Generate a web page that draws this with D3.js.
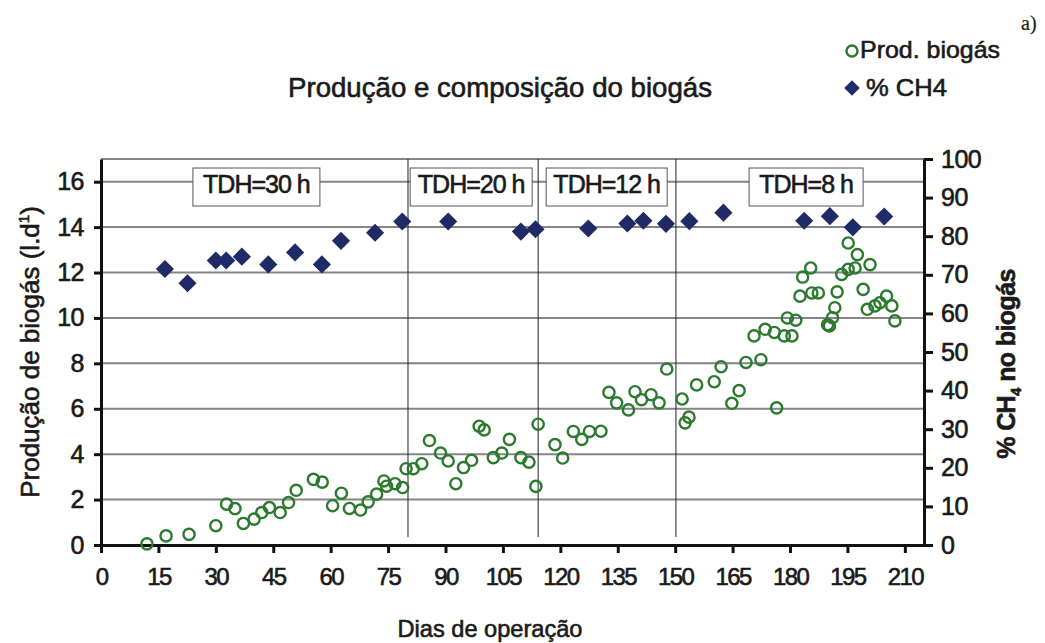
<!DOCTYPE html>
<html>
<head>
<meta charset="utf-8">
<script src="https://cdn.jsdelivr.net/npm/d3@7"></script>
<style>
  html, body { margin: 0; padding: 0; background: #fff; }
  svg text { font-family: "Liberation Sans", Arial, sans-serif; fill: #1a1a1a; stroke: #1a1a1a; stroke-width: 0.6px; }
</style>
</head>
<body>
<svg id="chart" width="1045" height="643"></svg>
<script>
// Biogas production (l/d) by day of operation
const prodDays = [12, 17, 23, 30, 32.8, 35, 37.2, 40, 42, 44, 46.8, 49, 51, 55.5, 57.8, 60.5, 62.8, 64.9, 67.8, 69.8,
  72, 73.9, 74.6, 76.8, 78.8, 79.7, 81.6, 83.8, 85.8, 88.7, 90.7, 92.7, 94.7, 96.8, 98.8, 100.1, 102.5, 104.7, 106.7, 109.7,
  111.8, 113.6, 114.2, 118.6, 120.6, 123.4, 125.6, 127.6, 130.6, 132.7, 134.7, 137.8, 139.5, 141.2, 143.7, 145.8, 147.8, 151.8, 152.6, 153.6,
  155.6, 160.2, 162, 164.8, 166.7, 168.5, 170.6, 172.4, 173.5, 175.9, 176.5, 178.5, 179.3, 180.5, 181.5, 182.6, 183.3, 185.4, 185.7, 187.4,
  189.8, 190.3, 191.1, 191.7, 192.3, 193.5, 195.2, 195.2, 197.0, 197.6, 199.1, 200.2, 200.9, 202.2, 203.5, 205.2, 206.6, 207.4];
const prodValues = [0.05, 0.40, 0.47, 0.85, 1.80, 1.60, 0.95, 1.14, 1.43, 1.65, 1.43, 1.87, 2.41, 2.89, 2.77, 1.73, 2.28, 1.61, 1.54, 1.90,
  2.24, 2.82, 2.59, 2.70, 2.53, 3.36, 3.36, 3.58, 4.60, 4.05, 3.70, 2.70, 3.41, 3.73, 5.23, 5.07, 3.85, 4.05, 4.65, 3.85,
  3.65, 2.58, 5.32, 4.42, 3.83, 5.00, 4.65, 5.00, 5.01, 6.72, 6.26, 5.95, 6.75, 6.40, 6.62, 6.26, 7.75, 6.43, 5.38, 5.63,
  7.05, 7.19, 7.85, 6.24, 6.80, 8.04, 9.21, 8.16, 9.50, 9.36, 6.04, 9.21, 10.00, 9.21, 9.90, 10.96, 11.80, 12.20, 11.10, 11.10,
  9.70, 9.65, 10.01, 10.45, 11.15, 11.92, 12.14, 13.30, 12.20, 12.79, 11.26, 10.38, 12.35, 10.53, 10.67, 10.96, 10.53, 9.87];

// Methane content of the biogas (%)
const ch4Days = [16.7, 22.6, 30.0, 32.7, 36.8, 43.7, 50.7, 57.7, 62.7, 71.6, 78.7, 90.7, 109.7, 113.5, 127.3, 137.5, 141.7, 147.6,
  153.7, 162.6, 183.7, 190.4, 196.4, 204.6];
const ch4Values = [71.5, 67.8, 73.7, 73.7, 74.7, 72.7, 75.8, 72.7, 78.8, 80.9, 83.8, 83.8, 81.2, 81.8, 82.0, 83.3, 84.0, 83.2,
  83.9, 86.1, 84.0, 85.2, 82.3, 85.1];

// Hydraulic retention time phases
const phaseBoundaries = [80.2, 114.2, 150.2];
const phaseLabels = ["TDH=30 h", "TDH=20 h", "TDH=12 h", "TDH=8 h"];
const phaseLabelCenters = [40.6, 96.7, 132.1, 184.2];

const xTicks = d3.range(0, 211, 15);
const yLeftTicks = d3.range(0, 17, 2);
const yRightTicks = d3.range(0, 101, 10);

const svg = d3.select("#chart");
const plotLeft = 101, plotRight = 924, plotTop = 159, plotBottom = 545;

const x = d3.scaleLinear().domain([0, 215]).range([plotLeft, plotRight]);
const yL = d3.scaleLinear().domain([0, 17]).range([plotBottom, plotTop]);
const yR = d3.scaleLinear().domain([0, 100]).range([plotBottom, plotTop]);

// Horizontal gridlines (plus top border)
svg.append("g").selectAll("line")
  .data(yLeftTicks.filter(d => d > 0).concat([17]))
  .join("line")
  .attr("x1", plotLeft).attr("x2", plotRight)
  .attr("y1", d => yL(d)).attr("y2", d => yL(d))
  .attr("stroke", "#858585").attr("stroke-width", 2);

// Phase separators
svg.append("g").selectAll("line")
  .data(phaseBoundaries)
  .join("line")
  .attr("x1", d => x(d)).attr("x2", d => x(d))
  .attr("y1", plotTop).attr("y2", yL(0.35))
  .attr("stroke", "#222").attr("stroke-width", 1);

// Phase label boxes
const boxW = [127, 122, 121, 114];
const phaseG = svg.append("g").selectAll("g")
  .data(phaseLabels)
  .join("g")
  .attr("transform", (d, i) => `translate(${x(phaseLabelCenters[i])},0)`);
phaseG.append("rect")
  .attr("x", (d, i) => -boxW[i] / 2).attr("y", 168)
  .attr("width", (d, i) => boxW[i]).attr("height", 38)
  .attr("fill", "#fff").attr("stroke", "#555").attr("stroke-width", 1);
phaseG.append("text")
  .attr("text-anchor", "middle").attr("y", 193)
  .attr("font-size", 25).attr("letter-spacing", -1)
  .text(d => d);

// Axes
const axisStyle = (size, spacing) => g => {
  g.select(".domain").attr("stroke", "#111").attr("stroke-width", 3);
  g.selectAll(".tick line").attr("stroke", "#111").attr("stroke-width", 3);
  g.selectAll(".tick text").attr("font-size", size).attr("letter-spacing", spacing)
    .attr("fill", "#1a1a1a")
    .attr("font-family", "'Liberation Sans', Arial, sans-serif");
};

svg.append("g")
  .attr("transform", `translate(0,${plotBottom})`)
  .call(d3.axisBottom(x).tickValues(xTicks).tickSize(8).tickPadding(15).tickSizeOuter(0))
  .call(axisStyle(24, -1.6));

svg.append("g")
  .attr("transform", `translate(${plotLeft},0)`)
  .call(d3.axisLeft(yL).tickValues(yLeftTicks).tickSize(7).tickPadding(10).tickSizeOuter(0))
  .call(axisStyle(25, -0.5));

svg.append("g")
  .attr("transform", `translate(${plotRight},0)`)
  .call(d3.axisRight(yR).tickValues(yRightTicks).tickSize(9).tickPadding(8).tickSizeOuter(0))
  .call(axisStyle(25, -0.5));

// Biogas production markers
svg.append("g").selectAll("circle")
  .data(d3.zip(prodDays, prodValues))
  .join("circle")
  .attr("cx", d => x(d[0])).attr("cy", d => yL(d[1]))
  .attr("r", 5.6)
  .attr("fill", "none").attr("stroke", "#2b7a2e").attr("stroke-width", 2.4);

// Methane content markers
const diamond = d3.symbol().type(d3.symbolSquare).size(165);
svg.append("g").selectAll("path")
  .data(d3.zip(ch4Days, ch4Values))
  .join("path")
  .attr("d", diamond)
  .attr("transform", d => `translate(${x(d[0])},${yR(d[1])}) rotate(45)`)
  .attr("fill", "#1f2b66");

// Titles
svg.append("text")
  .attr("x", 500).attr("y", 97).attr("text-anchor", "middle")
  .attr("font-size", 27).attr("textLength", 424).attr("lengthAdjust", "spacingAndGlyphs")
  .text("Produção e composição do biogás");

svg.append("text")
  .attr("x", 490).attr("y", 637).attr("text-anchor", "middle")
  .attr("font-size", 24).attr("textLength", 185).attr("lengthAdjust", "spacingAndGlyphs")
  .text("Dias de operação");

const leftLabel = svg.append("text")
  .attr("transform", "translate(39,352) rotate(-90)")
  .attr("text-anchor", "middle")
  .attr("font-size", 26);
leftLabel.append("tspan").text("Produção de biogás (l.d");
leftLabel.append("tspan").attr("font-size", 15).attr("dy", -10).text("1");
leftLabel.append("tspan").attr("dy", 10).text(")");

const rightLabel = svg.append("text")
  .attr("transform", "translate(1015,364) rotate(-90)")
  .attr("text-anchor", "middle")
  .attr("font-size", 25).attr("font-weight", "bold").attr("letter-spacing", -0.6);
rightLabel.append("tspan").text("% CH");
rightLabel.append("tspan").attr("font-size", 15).attr("dy", 6).text("4");
rightLabel.append("tspan").attr("dy", -6).text(" no biogás");

// Legend
const legend = svg.append("g");
legend.append("circle")
  .attr("cx", 852).attr("cy", 51).attr("r", 5.5)
  .attr("fill", "none").attr("stroke", "#2b7a2e").attr("stroke-width", 2.4);
legend.append("text").attr("x", 860).attr("y", 58)
  .attr("font-size", 24).attr("textLength", 140).attr("lengthAdjust", "spacingAndGlyphs").text("Prod. biogás");
legend.append("path")
  .attr("d", d3.symbol().type(d3.symbolSquare).size(120))
  .attr("transform", "translate(852,88) rotate(45)")
  .attr("fill", "#1f2b66");
legend.append("text").attr("x", 866).attr("y", 96)
  .attr("font-size", 24).attr("textLength", 81).attr("lengthAdjust", "spacingAndGlyphs").text("% CH4");

svg.append("text")
  .attr("x", 1021).attr("y", 30)
  .style("font-family", "'Liberation Serif', 'Times New Roman', serif")
  .style("stroke-width", "0.2px")
  .attr("font-size", 20).text("a)");
</script>
</body>
</html>
